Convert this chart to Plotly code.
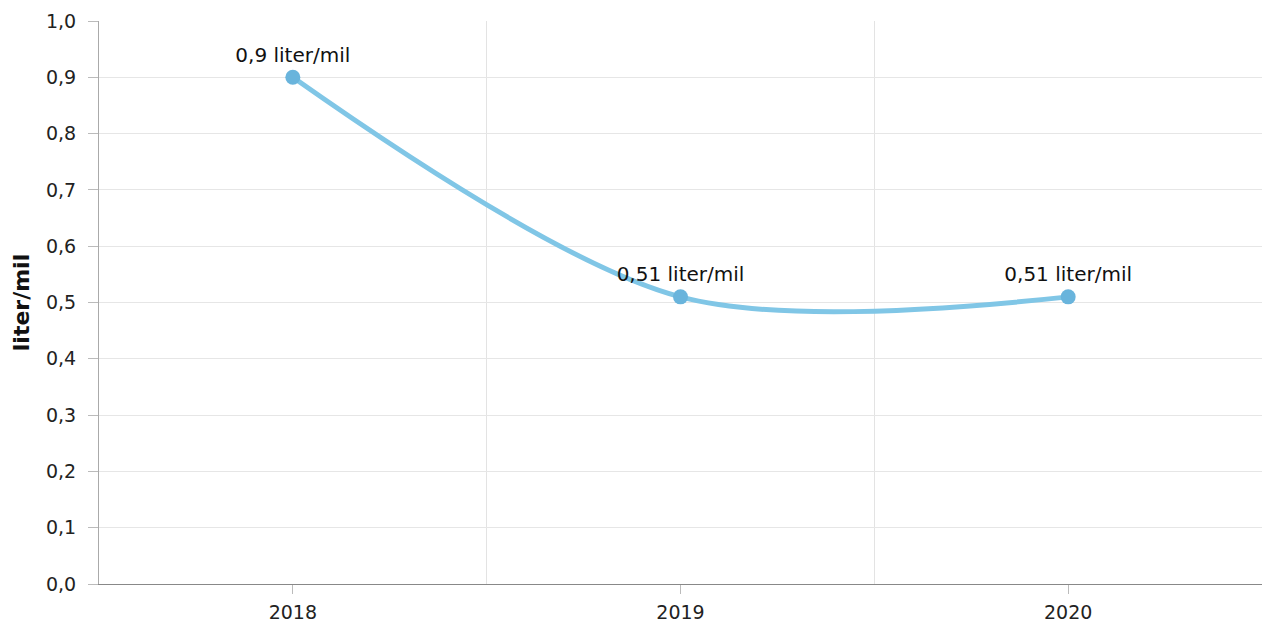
import plotly.graph_objects as go

years = ["2018", "2019", "2020"]
values = [0.9, 0.51, 0.51]
labels = ["0,9 liter/mil", "0,51 liter/mil", "0,51 liter/mil"]
y_ticks = [0.0, 0.1, 0.2, 0.3, 0.4, 0.5, 0.6, 0.7, 0.8, 0.9, 1.0]

xpos = list(range(len(years)))
FONT = "DejaVu Sans, Verdana, sans-serif"

fig = go.Figure()
fig.add_trace(go.Scatter(
    x=xpos, y=values,
    mode="lines",
    line=dict(color="#80c6e6", width=5, shape="spline", smoothing=0.9),
    hoverinfo="skip", showlegend=False,
))
fig.add_trace(go.Scatter(
    x=xpos, y=values,
    mode="markers+text",
    marker=dict(color="#69b4dc", size=15),
    text=labels,
    textposition="top center",
    textfont=dict(family=FONT, size=20, color="#111111"),
    showlegend=False,
))

fig.update_layout(
    width=1266, height=628,
    margin=dict(l=99, r=4, t=21, b=44),
    paper_bgcolor="white", plot_bgcolor="white",
    separators=", ",
    font=dict(family=FONT, size=19, color="#222222"),
)
fig.update_xaxes(
    range=[-0.5, 2.5],
    tickmode="array", tickvals=xpos, ticktext=years,
    showgrid=False,
    ticks="outside", ticklen=9, tickcolor="#bbbbbb", tickwidth=1,
    showline=True, linecolor="#888888", linewidth=1,
    zeroline=False,
    ticklabelstandoff=2,
    minor=dict(tick0=0.5, dtick=1, showgrid=True, gridcolor="#e3e3e3", gridwidth=1, ticks=""),
    tickfont=dict(family=FONT, size=19, color="#222222"),
)
fig.update_yaxes(
    range=[0, 1.0],
    tickmode="array", tickvals=y_ticks, tickformat=".1f",
    showgrid=True, gridcolor="#e6e6e6", gridwidth=1,
    ticks="outside", ticklen=10, tickcolor="#bbbbbb",
    showline=True, linecolor="#aaaaaa", linewidth=1,
    zeroline=False,
    ticklabelstandoff=8,
    title=dict(text="<b>liter/mil</b>", font=dict(family=FONT, size=22, color="#111111"), standoff=10),
    tickfont=dict(family=FONT, size=19, color="#222222"),
)

fig.write_html(
    "out.html",
    config={"displayModeBar": False},
    post_script="document.body.style.margin='0';document.body.style.overflow='hidden';",
)
